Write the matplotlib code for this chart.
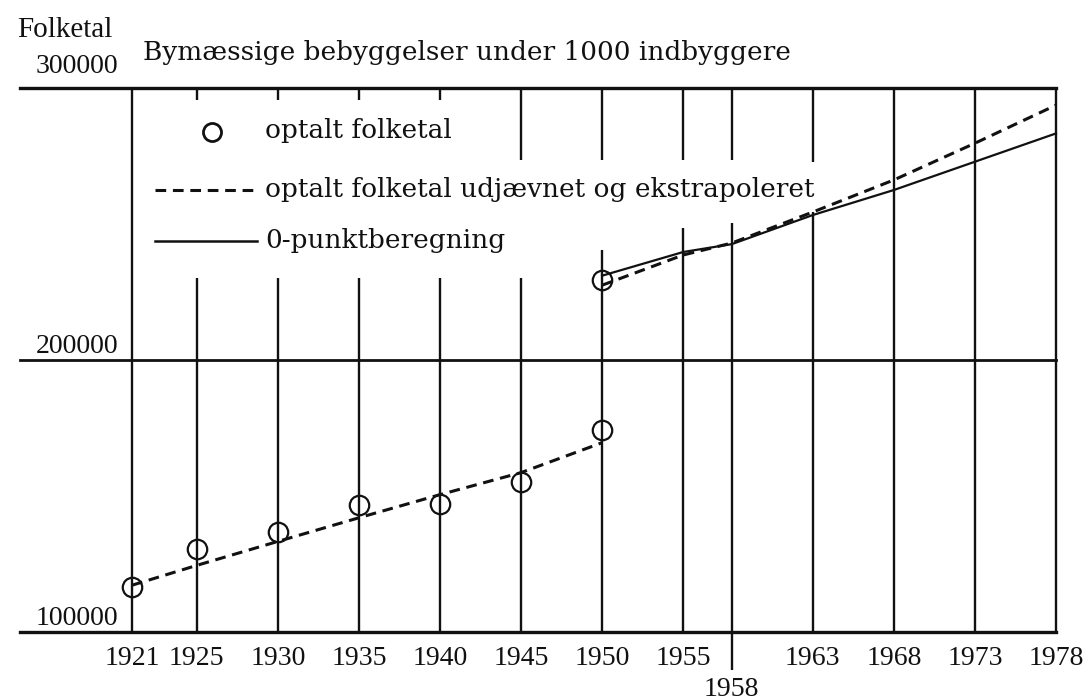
import matplotlib.pyplot as plt

# years on the x axis (vertical lines)
years = [1921, 1925, 1930, 1935, 1940, 1945, 1950, 1955, 1958, 1963, 1968, 1973, 1978]
y_ticks = [100000, 200000, 300000]

# counted population (circles)
census_years = [1921, 1925, 1930, 1935, 1940, 1945, 1950]
census_pop = [116500, 130500, 136800, 146700, 147200, 155100, 174300]
census2_years = [1950]
census2_pop = [229400]

# counted population smoothed and extrapolated (dashed)
smooth_years = [1921, 1925, 1930, 1935, 1940, 1945, 1950]
smooth_pop = [117200, 124500, 133300, 142000, 150500, 158600, 169600]
extrap_years = [1950, 1955, 1958, 1963, 1968, 1973, 1978]
extrap_pop = [227500, 238600, 243000, 254400, 266200, 279700, 293700]

# 0-punktberegning (solid)
zero_years = [1950, 1955, 1958, 1963, 1968, 1973, 1978]
zero_pop = [231000, 239700, 242600, 253300, 262500, 272900, 283300]

# where the vertical lines are broken to leave room for the legend
vline_gaps = [None, (230100, 295600), (230100, 295600), (230100, 295600),
              (230100, 295600), (230100, 273500), (240400, 273500),
              (248500, 273500), (250300, 273500), (254400, 272800),
              None, None, None]

ink = "#111111"
num_font = "Liberation Serif"
txt_font = "DejaVu Serif"

fig = plt.figure(figsize=(10.87, 7.0), dpi=100)
ax = fig.add_axes([20 / 1087, 68 / 700, 1036 / 1087, 544 / 700])
ax.set_xlim(1914.09, 1978)
ax.set_ylim(100000, 300000)
ax.axis("off")

for yv in y_ticks:
    ax.axhline(yv, color=ink, lw=2.0 if yv == 200000 else 2.4, clip_on=False, zorder=2)

for yr, gap in zip(years, vline_gaps):
    bottom = 86000 if yr == 1958 else 100000
    if gap is None:
        ax.vlines(yr, bottom, 300000, color=ink, lw=1.7, clip_on=False)
    else:
        ax.vlines(yr, bottom, gap[0], color=ink, lw=1.7, clip_on=False)
        ax.vlines(yr, gap[1], 300000, color=ink, lw=1.7, clip_on=False)

dash = (0, (3.5, 2.2))
ax.plot(smooth_years, smooth_pop, ls=dash, lw=2.2, color=ink)
ax.plot(extrap_years, extrap_pop, ls=dash, lw=2.2, color=ink, clip_on=False)
ax.plot(zero_years, zero_pop, ls="-", lw=1.6, color=ink, clip_on=False)
ax.plot(census_years, census_pop, "o", ms=14, mfc="none", mec=ink, mew=1.6, zorder=4)
ax.plot(census2_years, census2_pop, "o", ms=14, mfc="none", mec=ink, mew=1.6, zorder=4)

# year labels
for yr in years:
    off = -46 if yr == 1958 else -24
    ax.annotate(str(yr), xy=(yr, 0), xycoords=("data", "axes fraction"),
                xytext=(0, off), textcoords="offset points",
                ha="center", va="baseline", fontsize=20, family=num_font, color=ink)

# population labels
for yv in y_ticks:
    off = 11 if yv == 300000 else 5
    ax.annotate(str(yv), xy=(0.0946, yv), xycoords=("axes fraction", "data"),
                xytext=(0, off), textcoords="offset points",
                ha="right", va="baseline", fontsize=20, family=num_font, color=ink)

fig.text(17 / 1087, 1 - 37 / 700, "Folketal", fontsize=21, family=num_font, color=ink)
fig.text(143 / 1087, 1 - 60 / 700, "Bymæssige bebyggelser under 1000 indbyggere",
         fontsize=19, family=txt_font, color=ink)

# legend
ax.plot([0.185], [0.919], "o", ms=13, mfc="none", mec=ink, mew=2.0, transform=ax.transAxes, clip_on=False)
ax.plot([0.130, 0.229], [0.8125, 0.8125], ls=dash, lw=2.2, color=ink, transform=ax.transAxes)
ax.plot([0.130, 0.229], [0.719, 0.719], ls="-", lw=1.8, color=ink, transform=ax.transAxes)
leg_texts = ["optalt folketal", "optalt folketal udjævnet og ekstrapoleret", "0-punktberegning"]
for t, yf in zip(leg_texts, [0.921, 0.8125, 0.719]):
    ax.text(0.2365, yf, t, transform=ax.transAxes, ha="left", va="center",
            fontsize=19, family=txt_font, color=ink)

fig.savefig("out.png", dpi=100, facecolor="white")
